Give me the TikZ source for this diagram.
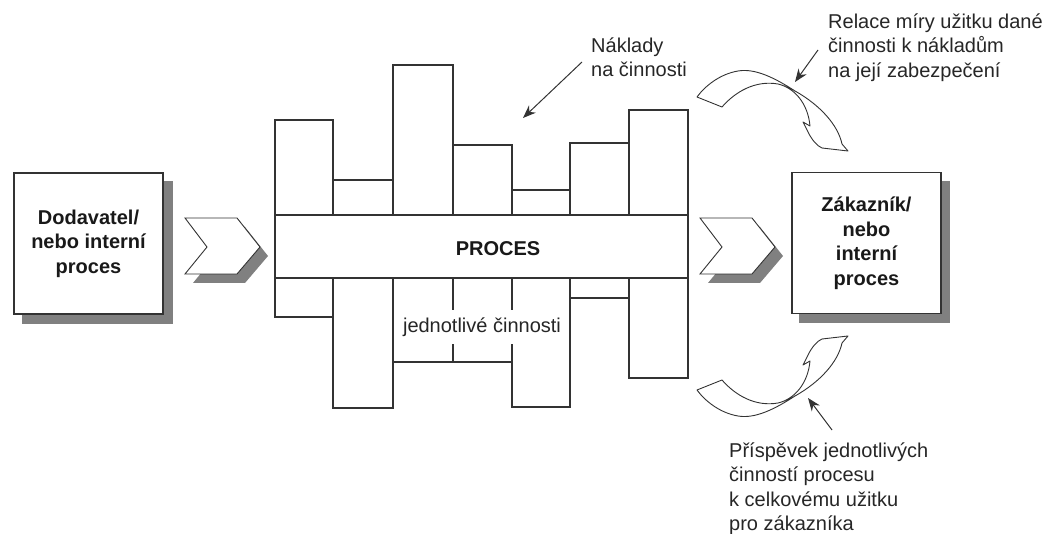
\documentclass[tikz,border=0pt]{standalone}
\usepackage{fontspec}
\setmainfont{Liberation Sans}
\usetikzlibrary{arrows.meta,backgrounds,calc}

\definecolor{ink}{gray}{0.2}
\definecolor{shadowgray}{gray}{0.5}
\newcommand\firstln{\rule{0pt}{15pt}}

\begin{document}
\begin{tikzpicture}[x=1pt,y=-1pt,
  colbar/.style={draw=ink,line width=1.1pt,fill=white},
  boxnode/.style={draw=ink,line width=1.2pt,fill=white,minimum width=149pt,
    minimum height=141pt,align=center,inner sep=0pt,text=black!90,
    font=\fontsize{20}{24.5}\selectfont\bfseries},
  note/.style={align=left,inner sep=0pt,anchor=north west,text=black!85,
    font=\fontsize{20}{24.5}\selectfont},
  chev/.style={draw=ink,line width=0.9pt,fill=white},
  chevshadow/.style={fill=shadowgray},
  ribbon/.style={draw=ink,line width=0.9pt,fill=white,line join=round},
  pointer/.style={draw=ink,line width=1pt,-{Stealth[length=13pt,width=10pt]}}]
\useasboundingbox (0,0) rectangle (1050,534);

% supplier and customer boxes
\node[boxnode] (supp) at (88.5,243.5) {Dodavatel/\\nebo interní\\proces};
\node[boxnode] (cust) at (866.5,243) {Zákazník/\\nebo\\interní\\proces};
\begin{scope}[on background layer]
  \fill[shadowgray] ($(supp.north west)+(9,9)$) rectangle ($(supp.south east)+(9,9)$);
  \fill[shadowgray] ($(cust.north west)+(8,9)$) rectangle ($(cust.south east)+(8,9)$);
\end{scope}

% chevrons
\fill[chevshadow] (193,227) -- (245,227) -- (268,256) -- (245,283) -- (193,283) -- (215,256) -- cycle;
\draw[chev] (185,218) -- (237,218) -- (260,247) -- (237,274) -- (185,274) -- (207,247) -- cycle;
\fill[chevshadow] (708,227) -- (760,227) -- (783,256) -- (760,283) -- (708,283) -- (730,256) -- cycle;
\draw[chev] (700,218) -- (752,218) -- (775,247) -- (752,274) -- (700,274) -- (722,247) -- cycle;

% activity columns above and below the process band
\foreach \xa/\xb/\t/\b in {275/333/120/317, 333/393/180/408, 393/453/65/362,
    453/512/145/362, 512/570/190/407, 570/629/143/298, 629/688/110/378} {
  \draw[colbar] (\xa,\t) rectangle (\xb,215);
  \draw[colbar] (\xa,278) rectangle (\xb,\b);
}
\node[draw=ink,line width=1.1pt,fill=white,minimum width=413pt,minimum height=63pt,
  inner sep=0pt] (band) at (481.5,246.5) {};
\node[font=\fontsize{20}{24}\selectfont\bfseries,text=black!90] (proc) at (498,249) {PROCES};
\node[fill=white,inner xsep=2pt,inner ysep=8pt,text=black!85,
  font=\fontsize{20}{24}\selectfont] (acts) at (482,327) {jednotlivé činnosti};

% cost label
\node[note] (cost) at (591,37) {\firstln Náklady\\na činnosti};
\coordinate (costA) at (582,62);
\coordinate (costB) at (523,118);
\draw[pointer] (costA) -- (costB);

% curled ribbon arrow above the customer box
\draw[ribbon] (697,97) -- (722,107) .. controls (735,92) and (755,80) .. (778,84)
  .. controls (795,88) and (808,104) .. (810,126) -- (803,122) -- (808,132)
  .. controls (812,140) and (817,146) .. (822,148) -- (848,151) -- (842,144)
  .. controls (838,125) and (820,105) .. (795,91)
  .. controls (775,78) and (755,68) .. (738,71)
  .. controls (720,74) and (705,86) .. cycle;
\node[note] (rel) at (828,13) {\firstln Relace míry užitku dané\\činnosti k nákladům\\na její zabezpečení};
\coordinate (relA) at (818,50);
\coordinate (relB) at (795,82);
\draw[pointer] (relA) -- (relB);

% curled ribbon arrow below the customer box
\draw[ribbon] (697,390) -- (722,380) .. controls (735,395) and (755,407) .. (778,403)
  .. controls (795,399) and (808,383) .. (810,361) -- (803,365) -- (808,355)
  .. controls (812,347) and (817,341) .. (822,339) -- (848,336) -- (842,343)
  .. controls (838,362) and (820,382) .. (795,396)
  .. controls (775,409) and (755,419) .. (738,416)
  .. controls (720,413) and (705,401) .. cycle;
\node[note] (contr) at (729,442) {\firstln Příspěvek jednotlivých\\činností procesu\\k celkovému užitku\\pro zákazníka};
\coordinate (conA) at (832,430);
\coordinate (conB) at (808,398);
\draw[pointer] (conA) -- (conB);
\end{tikzpicture}
\end{document}
